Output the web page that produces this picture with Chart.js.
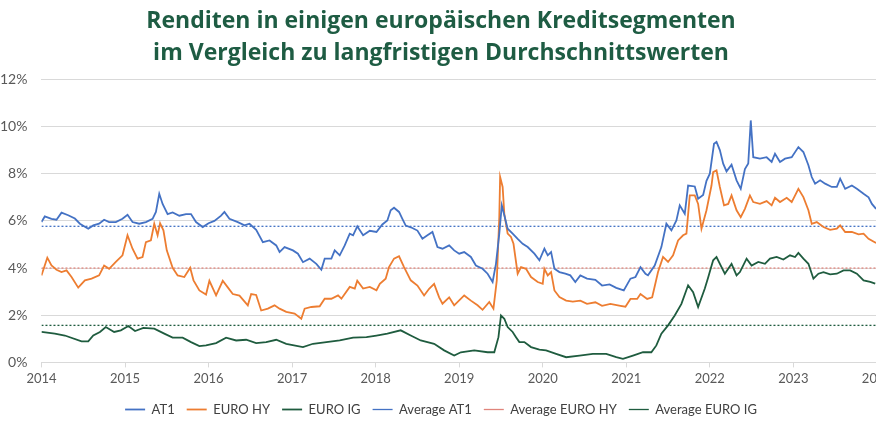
<!DOCTYPE html>
<html>
<head>
<meta charset="utf-8">
<script src="https://cdn.jsdelivr.net/npm/chart.js@4.4.1/dist/chart.umd.min.js"></script>
<style>
  html, body { margin: 0; padding: 0; background: #fff; }
  #wrap { width: 876px; height: 426px; overflow: hidden; }
</style>
</head>
<body>
<div id="wrap"><canvas id="chart" width="896" height="426"></canvas></div>
<script>
// values (decimal years, yield in %)
var at1Dates = [2014.00,2014.04,2014.12,2014.18,2014.24,2014.32,2014.40,2014.46,2014.56,2014.62,2014.69,2014.75,2014.81,2014.89,2014.97,
  2015.03,2015.09,2015.17,2015.25,2015.33,2015.37,2015.41,2015.45,2015.51,2015.57,2015.65,2015.73,2015.79,2015.85,2015.93,
  2016.00,2016.07,2016.15,2016.19,2016.25,2016.35,2016.43,2016.49,2016.57,2016.65,2016.73,2016.81,2016.85,2016.91,
  2017.01,2017.07,2017.13,2017.21,2017.29,2017.35,2017.39,2017.47,2017.51,2017.57,2017.63,2017.69,2017.73,2017.78,2017.85,2017.93,
  2018.01,2018.08,2018.14,2018.18,2018.22,2018.28,2018.32,2018.36,2018.44,2018.50,2018.56,2018.62,2018.68,2018.74,2018.80,2018.88,2018.94,
  2019.00,2019.06,2019.14,2019.20,2019.28,2019.34,2019.40,2019.44,2019.48,2019.51,2019.54,2019.58,2019.64,2019.70,2019.76,2019.82,2019.90,2019.96,
  2020.02,2020.06,2020.10,2020.14,2020.20,2020.27,2020.33,2020.39,2020.45,2020.53,2020.63,2020.71,2020.80,2020.88,2020.97,
  2021.05,2021.11,2021.17,2021.23,2021.26,2021.34,2021.42,2021.48,2021.54,2021.60,2021.64,2021.70,2021.74,2021.82,2021.86,2021.92,2021.96,
  2022.00,2022.05,2022.08,2022.12,2022.16,2022.20,2022.26,2022.32,2022.37,2022.42,2022.46,2022.49,2022.52,2022.60,2022.68,2022.74,2022.78,2022.84,2022.90,2022.98,
  2023.06,2023.12,2023.18,2023.22,2023.26,2023.32,2023.38,2023.46,2023.52,2023.56,2023.62,2023.70,2023.76,2023.84,2023.90,2023.94,2023.99];
var at1Values = [5.95,6.19,6.09,6.05,6.35,6.24,6.10,5.88,5.67,5.81,5.88,6.05,5.95,5.95,6.09,
  6.26,5.95,5.88,5.95,6.09,6.38,7.15,6.72,6.29,6.36,6.22,6.29,6.29,5.95,5.74,
  5.90,6.00,6.22,6.38,6.09,5.95,5.81,5.88,5.62,5.10,5.17,4.96,4.68,4.89,
  4.75,4.61,4.25,4.40,4.18,3.93,4.40,4.40,4.75,4.54,4.96,5.46,5.39,5.77,5.39,5.58,
  5.53,5.85,6.02,6.45,6.56,6.38,6.09,5.80,5.70,5.59,5.24,5.39,5.53,4.89,4.82,4.96,4.75,
  4.61,4.68,4.47,4.11,3.97,3.76,3.41,4.18,5.46,6.66,6.24,5.67,5.46,5.24,5.03,4.89,4.61,4.33,
  4.82,4.54,4.68,3.97,3.83,3.76,3.69,3.41,3.69,3.55,3.50,3.26,3.31,3.16,3.05,
  3.55,3.62,4.04,3.76,3.69,4.11,4.89,5.88,5.60,6.02,6.66,6.30,7.50,7.46,6.94,7.10,7.70,
  8.00,9.27,9.35,9.00,8.43,8.10,8.38,7.72,7.36,8.20,8.43,10.26,8.70,8.64,8.70,8.50,8.85,8.50,8.64,8.70,
  9.13,8.92,8.36,7.86,7.58,7.72,7.58,7.44,7.44,7.79,7.36,7.50,7.36,7.15,7.00,6.72,6.51];

var hyDates = [2014.00,2014.07,2014.12,2014.18,2014.24,2014.30,2014.36,2014.44,2014.52,2014.60,2014.69,2014.75,2014.81,2014.89,2014.97,
  2015.03,2015.09,2015.15,2015.21,2015.25,2015.31,2015.35,2015.39,2015.42,2015.46,2015.50,2015.57,2015.63,2015.71,2015.78,2015.82,2015.89,2015.97,
  2016.01,2016.09,2016.17,2016.23,2016.29,2016.37,2016.47,2016.51,2016.57,2016.63,2016.71,2016.79,2016.85,2016.93,
  2017.03,2017.11,2017.15,2017.23,2017.33,2017.39,2017.47,2017.55,2017.59,2017.69,2017.75,2017.78,2017.85,2017.93,
  2018.01,2018.05,2018.12,2018.16,2018.22,2018.28,2018.34,2018.42,2018.50,2018.58,2018.64,2018.70,2018.76,2018.80,2018.88,2018.94,
  2019.06,2019.14,2019.22,2019.28,2019.36,2019.41,2019.45,2019.48,2019.49,2019.52,2019.54,2019.58,2019.62,2019.65,2019.70,2019.74,2019.80,2019.86,2019.94,
  2020.00,2020.02,2020.06,2020.10,2020.14,2020.20,2020.28,2020.36,2020.45,2020.53,2020.63,2020.71,2020.81,2020.93,2020.99,
  2021.05,2021.13,2021.17,2021.25,2021.31,2021.38,2021.44,2021.50,2021.56,2021.62,2021.68,2021.72,2021.76,2021.82,2021.86,2021.90,2021.96,
  2022.02,2022.04,2022.08,2022.12,2022.17,2022.22,2022.26,2022.32,2022.37,2022.42,2022.48,2022.52,2022.60,2022.68,2022.74,2022.78,2022.84,2022.92,2022.98,
  2023.06,2023.12,2023.18,2023.22,2023.28,2023.36,2023.44,2023.52,2023.56,2023.62,2023.70,2023.78,2023.84,2023.90,2023.99];
var hyValues = [3.69,4.44,4.11,3.93,3.83,3.90,3.62,3.17,3.48,3.55,3.69,4.11,3.97,4.26,4.54,
  5.39,4.82,4.40,4.47,5.10,5.18,5.88,5.39,5.90,5.60,4.75,4.01,3.69,3.62,4.01,3.48,3.05,2.88,
  3.46,2.84,3.46,3.18,2.90,2.83,2.42,2.90,2.86,2.20,2.28,2.42,2.28,2.14,
  2.07,1.85,2.28,2.35,2.38,2.70,2.70,2.84,2.70,3.20,3.13,3.46,3.13,3.20,
  3.06,3.33,3.55,4.04,4.40,4.50,4.04,3.48,3.26,2.84,3.12,3.33,2.76,2.49,2.76,2.42,
  2.84,2.62,2.42,2.23,2.56,2.28,3.48,6.16,7.86,7.44,6.30,5.46,5.32,5.03,3.76,4.04,3.97,3.62,3.41,
  3.33,3.97,3.69,3.83,3.05,2.77,2.62,2.58,2.62,2.48,2.55,2.40,2.48,2.40,2.36,
  2.69,2.69,2.90,2.69,2.76,3.83,4.47,4.26,4.54,5.17,5.39,5.46,7.08,7.08,6.72,5.67,6.45,
  7.50,8.07,8.14,7.44,6.66,6.72,7.08,6.45,6.16,6.51,7.08,6.80,6.72,6.84,6.66,6.98,6.80,6.98,6.80,
  7.36,7.01,6.45,5.88,5.95,5.74,5.62,5.67,5.81,5.53,5.53,5.43,5.46,5.24,5.06];

var igDates = [2014.00,2014.16,2014.28,2014.48,2014.56,2014.62,2014.70,2014.77,2014.87,2014.95,
  2015.04,2015.12,2015.22,2015.35,2015.47,2015.57,2015.69,2015.79,2015.89,2015.97,
  2016.09,2016.21,2016.33,2016.45,2016.57,2016.69,2016.81,2016.93,
  2017.13,2017.25,2017.41,2017.57,2017.73,2017.89,
  2018.01,2018.14,2018.30,2018.42,2018.54,2018.70,2018.82,2018.94,
  2019.02,2019.18,2019.34,2019.42,2019.47,2019.50,2019.54,2019.58,2019.64,2019.68,2019.72,2019.78,2019.86,2019.96,
  2020.04,2020.16,2020.28,2020.44,2020.60,2020.76,2020.88,2020.96,
  2021.08,2021.20,2021.30,2021.36,2021.42,2021.50,2021.58,2021.66,2021.74,2021.80,2021.86,2021.94,2021.98,
  2022.01,2022.04,2022.08,2022.14,2022.18,2022.26,2022.32,2022.36,2022.44,2022.50,2022.58,2022.66,2022.72,2022.80,2022.88,2022.96,
  2023.02,2023.06,2023.12,2023.18,2023.24,2023.30,2023.36,2023.44,2023.52,2023.60,2023.68,2023.76,2023.84,2023.92,2023.98];
var igValues = [1.29,1.22,1.14,0.89,0.89,1.14,1.29,1.50,1.29,1.36,
  1.54,1.33,1.46,1.43,1.22,1.05,1.05,0.86,0.69,0.72,
  0.82,1.05,0.93,0.96,0.82,0.86,0.96,0.79,
  0.65,0.79,0.86,0.93,1.05,1.07,
  1.14,1.22,1.36,1.14,0.93,0.79,0.51,0.29,
  0.43,0.51,0.43,0.43,1.07,1.99,1.85,1.50,1.29,1.07,0.86,0.86,0.65,0.54,
  0.51,0.36,0.22,0.29,0.36,0.36,0.22,0.15,
  0.29,0.43,0.43,0.72,1.22,1.57,1.99,2.48,3.27,2.98,2.35,3.13,3.60,
  3.97,4.33,4.47,4.04,3.76,4.18,3.69,3.83,4.40,4.11,4.26,4.18,4.40,4.47,4.36,4.54,
  4.47,4.64,4.40,4.18,3.55,3.76,3.83,3.73,3.76,3.90,3.90,3.76,3.48,3.41,3.34];

// long-term averages
var avgDates = [2014, 2024];
var avgAt1 = 5.77;
var avgHy = 4.0;
var avgIg = 1.57;

var yearTicks = [2014, 2015, 2016, 2017, 2018, 2019, 2020, 2021, 2022, 2023, 2024];

function toPoints(dates, values) {
  return dates.map(function (d, i) { return { x: d, y: values[i] }; });
}
function flat(v) {
  return avgDates.map(function (d) { return { x: d, y: v }; });
}

var ctx = document.getElementById("chart").getContext("2d");
new Chart(ctx, {
  type: "line",
  data: {
    datasets: [
      { label: "AT1", data: toPoints(at1Dates, at1Values), borderColor: "#4472C4", backgroundColor: "#4472C4", borderWidth: 1.8 },
      { label: "EURO HY", data: toPoints(hyDates, hyValues), borderColor: "#ED7D31", backgroundColor: "#ED7D31", borderWidth: 1.8 },
      { label: "EURO IG", data: toPoints(igDates, igValues), borderColor: "#1F5C3F", backgroundColor: "#1F5C3F", borderWidth: 1.8 },
      { label: "Average AT1", data: flat(avgAt1), borderColor: "#4472C4", backgroundColor: "#4472C4", borderWidth: 1.3, borderDash: [2, 2] },
      { label: "Average EURO HY", data: flat(avgHy), borderColor: "#E0857C", backgroundColor: "#E0857C", borderWidth: 1.3, borderDash: [2, 2] },
      { label: "Average EURO IG", data: flat(avgIg), borderColor: "#1F5C3F", backgroundColor: "#1F5C3F", borderWidth: 1.3, borderDash: [2, 2] }
    ]
  },
  options: {
    responsive: false,
    animation: false,
    parsing: false,
    elements: { point: { radius: 0, pointStyle: "line" }, line: { tension: 0 } },
    layout: { padding: { left: -14, right: 0, top: 0, bottom: 0 } },
    scales: {
      x: {
        type: "linear", min: 2014, max: 2024,
        afterBuildTicks: function (axis) { axis.ticks = yearTicks.map(function (v) { return { value: v }; }); },
        ticks: { callback: function (v) { return String(v); }, color: "#595959", font: { family: "Lato", size: 13 }, padding: 4, maxRotation: 0 },
        grid: { drawOnChartArea: false, drawTicks: true, tickLength: 5, color: "#d9d9d9" },
        border: { color: "#d9d9d9" }
      },
      y: {
        min: 0, max: 12,
        ticks: { stepSize: 2, callback: function (v) { return v + "%"; }, color: "#595959", font: { family: "Lato", size: 14 }, padding: 14 },
        grid: { color: "#d9d9d9", drawTicks: false },
        border: { display: false }
      }
    },
    plugins: {
      title: {
        display: true,
        text: ["Renditen in einigen europäischen Kreditsegmenten", "im Vergleich zu langfristigen Durchschnittswerten"],
        color: "#1E5C43",
        font: { family: "Open Sans", size: 23, weight: "bold", lineHeight: 1.4 },
        padding: { top: 5, bottom: 10 }
      },
      legend: {
        position: "bottom",
        labels: { usePointStyle: true, pointStyleWidth: 20, color: "#404040", font: { family: "Lato", size: 13 }, padding: 12 }
      },
      tooltip: { enabled: false }
    }
  }
});
</script>
</body>
</html>
